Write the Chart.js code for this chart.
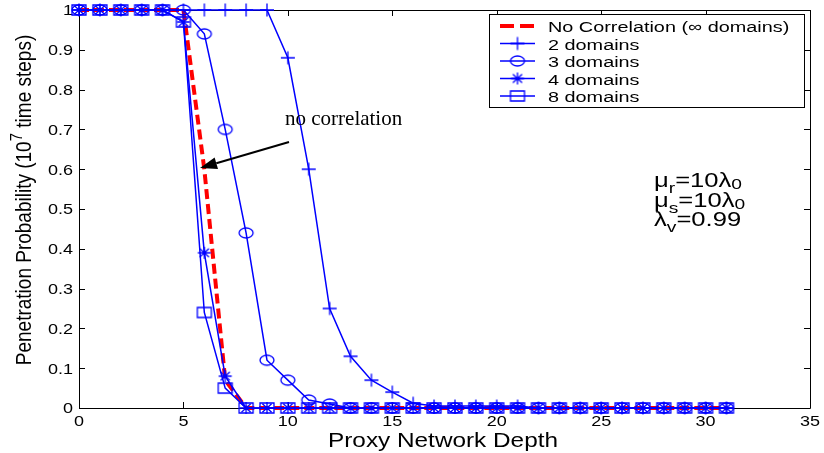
<!DOCTYPE html>
<html>
<head>
<meta charset="utf-8">
<script src="https://cdn.jsdelivr.net/npm/chart.js@4/dist/chart.umd.min.js"></script>
<style>
  html, body { margin: 0; padding: 0; background: #ffffff; }
  canvas { display: block; }
</style>
</head>
<body>
<canvas id="chart" width="824" height="453"></canvas>
<script>
// Proxy network depth (x) and penetration probability per series (y)
const depth = [0, 1, 2, 3, 4, 5, 6, 7, 8, 9, 10, 11, 12, 13, 14, 15,
               16, 17, 18, 19, 20, 21, 22, 23, 24, 25, 26, 27, 28, 29, 30, 31];
const noCorrelation = [1, 1, 1, 1, 1, 1, 0.60, 0.07, 0, 0, 0, 0, 0, 0, 0, 0,
                       0, 0, 0, 0, 0, 0, 0, 0, 0, 0, 0, 0, 0, 0, 0, 0];
const twoDomains = [1, 1, 1, 1, 1, 1, 1, 1, 1, 1, 0.88, 0.60, 0.25, 0.13, 0.07, 0.04,
                    0.012, 0.005, 0.005, 0.005, 0.005, 0.005, 0, 0, 0, 0, 0, 0, 0, 0, 0, 0];
const threeDomains = [1, 1, 1, 1, 1, 1, 0.94, 0.70, 0.44, 0.12, 0.07, 0.02, 0.01, 0, 0, 0,
                      0, 0, 0, 0, 0, 0, 0, 0, 0, 0, 0, 0, 0, 0, 0, 0];
const fourDomains = [1, 1, 1, 1, 1, 0.97, 0.39, 0.08, 0, 0, 0, 0, 0, 0, 0, 0,
                     0, 0, 0, 0, 0, 0, 0, 0, 0, 0, 0, 0, 0, 0, 0, 0];
const eightDomains = [1, 1, 1, 1, 1, 0.97, 0.24, 0.05, 0, 0, 0, 0, 0, 0, 0, 0,
                      0, 0, 0, 0, 0, 0, 0, 0, 0, 0, 0, 0, 0, 0, 0, 0];

const seriesLabels = ['No Correlation (\u221e domains)', '2 domains', '3 domains', '4 domains', '8 domains'];

const xTickValues = [0, 5, 10, 15, 20, 25, 30, 35];
const xTickLabels = ['0', '5', '10', '15', '20', '25', '30', '35'];
const yTickValues = [0, 0.1, 0.2, 0.3, 0.4, 0.5, 0.6, 0.7, 0.8, 0.9, 1];
const yTickLabels = ['0', '0.1', '0.2', '0.3', '0.4', '0.5', '0.6', '0.7', '0.8', '0.9', '1'];

const BLUE = 'rgb(0,0,255)';
const RED = 'rgb(255,0,0)';
const SANS = '"Liberation Sans", Arial, Helvetica, sans-serif';
const SERIF = '"Liberation Serif", "Times New Roman", serif';

// Hollow marker glyphs (+, o, *, square), slightly wider than tall
function makeMarker(kind) {
  const c = document.createElement('canvas');
  c.width = 18; c.height = 16;
  const g = c.getContext('2d');
  g.strokeStyle = BLUE;
  g.lineWidth = 1.3;
  const cx = 9, cy = 8;
  g.beginPath();
  if (kind === 'plus') {
    g.moveTo(cx - 7, cy); g.lineTo(cx + 7, cy);
    g.moveTo(cx, cy - 6.5); g.lineTo(cx, cy + 6.5);
  } else if (kind === 'circle') {
    g.ellipse(cx, cy, 7, 5, 0, 0, Math.PI * 2);
  } else if (kind === 'star') {
    g.moveTo(cx - 6.5, cy); g.lineTo(cx + 6.5, cy);
    g.moveTo(cx, cy - 6); g.lineTo(cx, cy + 6);
    g.moveTo(cx - 4.6, cy - 4.2); g.lineTo(cx + 4.6, cy + 4.2);
    g.moveTo(cx - 4.6, cy + 4.2); g.lineTo(cx + 4.6, cy - 4.2);
  } else if (kind === 'square') {
    g.rect(cx - 7, cy - 5, 14, 10);
  }
  g.stroke();
  return c;
}
const markers = {
  plus: makeMarker('plus'),
  circle: makeMarker('circle'),
  star: makeMarker('star'),
  square: makeMarker('square')
};

function toPoints(ys) {
  return depth.map((x, i) => ({ x: x, y: ys[i] }));
}

function blueSeries(label, ys, marker) {
  return {
    label: label,
    data: toPoints(ys),
    borderColor: BLUE,
    borderWidth: 1.5,
    pointStyle: marker,
    pointRadius: 5,
    pointBorderColor: BLUE,
    pointBackgroundColor: 'rgba(0,0,0,0)',
    tension: 0,
    clip: false,
    order: 0
  };
}

const datasets = [
  {
    label: seriesLabels[0],
    data: toPoints(noCorrelation),
    borderColor: RED,
    borderWidth: 4,
    borderDash: [10, 5],
    pointRadius: 0,
    tension: 0,
    clip: false,
    order: 1
  },
  blueSeries(seriesLabels[1], twoDomains, markers.plus),
  blueSeries(seriesLabels[2], threeDomains, markers.circle),
  blueSeries(seriesLabels[3], fourDomains, markers.star),
  blueSeries(seriesLabels[4], eightDomains, markers.square)
];

// Horizontally stretched text helper
function stretchText(ctx, s, x, y, font, sx, align, color) {
  ctx.save();
  ctx.font = font;
  ctx.fillStyle = color || '#000';
  ctx.textAlign = align || 'left';
  ctx.textBaseline = 'alphabetic';
  ctx.translate(x, y);
  ctx.scale(sx, 1);
  ctx.fillText(s, 0, 0);
  ctx.restore();
}
function textWidth(ctx, s, font, sx) {
  ctx.save();
  ctx.font = font;
  const w = ctx.measureText(s).width * sx;
  ctx.restore();
  return w;
}

const whiteBackground = {
  id: 'whiteBackground',
  beforeDraw(chart) {
    const ctx = chart.ctx;
    ctx.save();
    ctx.fillStyle = '#ffffff';
    ctx.fillRect(0, 0, chart.width, chart.height);
    ctx.restore();
  }
};

// Boxed axes with inward ticks, tick labels and axis titles
const boxAxes = {
  id: 'boxAxes',
  beforeDatasetsDraw(chart) {
    const ctx = chart.ctx;
    const a = chart.chartArea;
    const xs = chart.scales.x, ys = chart.scales.y;
    const tl = 6;
    ctx.save();
    ctx.strokeStyle = '#000';
    ctx.lineWidth = 1;
    ctx.beginPath();
    ctx.rect(Math.round(a.left) + 0.5, Math.round(a.top) + 0.5,
             Math.round(a.right - a.left), Math.round(a.bottom - a.top));
    xTickValues.forEach(v => {
      const px = Math.round(xs.getPixelForValue(v)) + 0.5;
      ctx.moveTo(px, a.bottom); ctx.lineTo(px, a.bottom - tl);
      ctx.moveTo(px, a.top); ctx.lineTo(px, a.top + tl);
    });
    yTickValues.forEach(v => {
      const py = Math.round(ys.getPixelForValue(v)) + 0.5;
      ctx.moveTo(a.left, py); ctx.lineTo(a.left + tl, py);
      ctx.moveTo(a.right, py); ctx.lineTo(a.right - tl, py);
    });
    ctx.stroke();
    ctx.restore();

    const tickFont = '15px ' + SANS;
    xTickValues.forEach((v, i) => {
      stretchText(ctx, xTickLabels[i], xs.getPixelForValue(v), a.bottom + 17.5, tickFont, 1.2, 'center');
    });
    yTickValues.forEach((v, i) => {
      stretchText(ctx, yTickLabels[i], a.left - 6, ys.getPixelForValue(v) + 5.4, tickFont, 1.2, 'right');
    });

    // x axis title
    const xt = 'Proxy Network Depth';
    const xf = '19.5px ' + SANS;
    const xsx = 230 / textWidth(ctx, xt, xf, 1);
    stretchText(ctx, xt, 443, 447, xf, xsx, 'center');

    // y axis title with superscript exponent
    const yf = '19px ' + SANS;
    const supF = '15px ' + SANS;
    const p1 = 'Penetration Probability (10', p2 = '7', p3 = ' time steps)';
    ctx.save();
    ctx.font = yf;
    const w1 = ctx.measureText(p1).width;
    const w3 = ctx.measureText(p3).width;
    ctx.font = supF;
    const w2 = ctx.measureText(p2).width;
    const total = w1 + w2 + w3;
    ctx.translate(31, 200);
    ctx.scale(1.15, 1);
    ctx.rotate(-Math.PI / 2);
    ctx.fillStyle = '#000';
    ctx.textBaseline = 'alphabetic';
    ctx.textAlign = 'left';
    let cx = -total / 2;
    ctx.font = yf; ctx.fillText(p1, cx, 0); cx += w1;
    ctx.font = supF; ctx.fillText(p2, cx, -8); cx += w2;
    ctx.font = yf; ctx.fillText(p3, cx, 0);
    ctx.restore();
  }
};

// Legend box, annotation arrow and parameter text
const overlay = {
  id: 'overlay',
  afterDraw(chart) {
    const ctx = chart.ctx;
    // legend
    const lx = 489.5, ly = 14.5, lw = 315, lh = 93;
    ctx.save();
    ctx.fillStyle = '#fff';
    ctx.strokeStyle = '#000';
    ctx.lineWidth = 1;
    ctx.fillRect(lx, ly, lw, lh);
    ctx.strokeRect(lx, ly, lw, lh);
    ctx.restore();
    const rowY = [26, 43.5, 61, 78.5, 96];
    const legFont = '15.5px ' + SANS;
    chart.data.datasets.forEach((ds, i) => {
      const y = rowY[i];
      ctx.save();
      ctx.strokeStyle = ds.borderColor;
      ctx.lineWidth = ds.borderWidth;
      if (ds.borderDash) ctx.setLineDash([14, 6]);
      ctx.beginPath();
      ctx.moveTo(500, y); ctx.lineTo(535, y);
      ctx.stroke();
      ctx.restore();
      if (ds.pointStyle && typeof ds.pointStyle === 'object') {
        ctx.drawImage(ds.pointStyle, 517.5 - ds.pointStyle.width / 2, y - ds.pointStyle.height / 2);
      }
      stretchText(ctx, ds.label, 548, y + 6, legFont, 1.28, 'left');
    });

    // annotation arrow
    ctx.save();
    ctx.strokeStyle = '#000';
    ctx.fillStyle = '#000';
    ctx.lineWidth = 2;
    const tx = 289, ty = 142, hx = 200, hy = 168;
    const dx = hx - tx, dy = hy - ty, len = Math.hypot(dx, dy);
    const ux = dx / len, uy = dy / len;
    const hl = 17, hw = 6;
    const bx = hx - ux * hl, by = hy - uy * hl;
    ctx.beginPath();
    ctx.moveTo(tx, ty); ctx.lineTo(bx, by);
    ctx.stroke();
    ctx.beginPath();
    ctx.moveTo(hx, hy);
    ctx.lineTo(bx - uy * hw, by + ux * hw);
    ctx.lineTo(bx + uy * hw, by - ux * hw);
    ctx.closePath();
    ctx.fill();
    ctx.restore();
    ctx.save();
    ctx.font = '21px ' + SERIF;
    ctx.fillStyle = '#000';
    ctx.fillText('no correlation', 285, 125);
    ctx.restore();

    // parameter block with subscripts
    const mainF = '20px ' + SANS, subF = '15px ' + SANS, sx = 1.28;
    function runs(x, y, parts) {
      parts.forEach(p => {
        const f = p.sub ? subF : mainF;
        stretchText(ctx, p.t, x, y + (p.sub ? p.dy : 0), f, sx, 'left');
        x += textWidth(ctx, p.t, f, sx);
      });
    }
    runs(654, 187, [{ t: '\u03bc' }, { t: 'r', sub: true, dy: 6 }, { t: '=10\u03bb' }, { t: '0', sub: true, dy: 2 }]);
    runs(654, 207, [{ t: '\u03bc' }, { t: 's', sub: true, dy: 6 }, { t: '=10\u03bb' }, { t: '0', sub: true, dy: 2 }]);
    runs(654, 226, [{ t: '\u03bb' }, { t: 'v', sub: true, dy: 6 }, { t: '=0.99' }]);
  }
};

new Chart(document.getElementById('chart'), {
  type: 'line',
  data: { datasets: datasets },
  options: {
    responsive: false,
    animation: false,
    events: [],
    layout: { padding: { left: 79, right: 14, top: 10, bottom: 45 }, autoPadding: false },
    plugins: { legend: { display: false }, tooltip: { enabled: false } },
    scales: {
      x: {
        type: 'linear', min: 0, max: 35,
        ticks: { display: false, stepSize: 5 },
        grid: { display: false }, border: { display: false },
        afterFit(s) { s.height = 0; }
      },
      y: {
        type: 'linear', min: 0, max: 1,
        ticks: { display: false, stepSize: 0.1 },
        grid: { display: false }, border: { display: false },
        afterFit(s) { s.width = 0; }
      }
    }
  },
  plugins: [whiteBackground, boxAxes, overlay]
});
</script>
</body>
</html>
